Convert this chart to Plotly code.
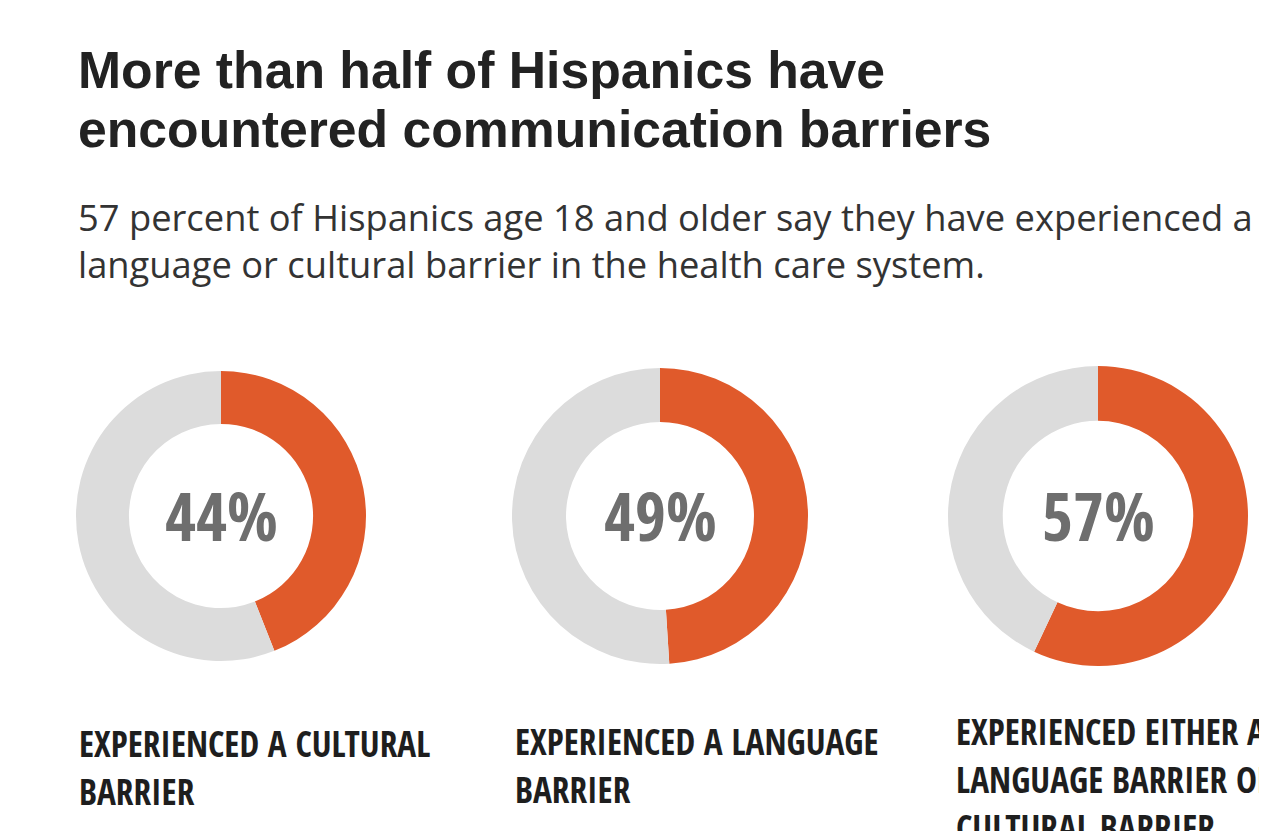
import plotly.graph_objects as go

W, H = 1267, 831
OFF = 8  # browser body margin

title_lines = ["More than half of Hispanics have", "encountered communication barriers"]
subtitle_lines = ["57 percent of Hispanics age 18 and older say they have experienced a",
                  "language or cultural barrier in the health care system."]
percents = [44, 49, 57]
labels = [["EXPERIENCED A CULTURAL", "BARRIER"],
          ["EXPERIENCED A LANGUAGE", "BARRIER"],
          ["EXPERIENCED EITHER A", "LANGUAGE BARRIER OR", "CULTURAL BARRIER"]]

ORANGE = "#E05A2B"
GRAY = "#DCDCDC"

boxes = [(76, 371, 290), (512, 368, 296), (948, 366, 300)]
label_base = [757, 755, 745]
label_x = [78, 514, 955]

def px(x, y):
    return (x - OFF) / W, 1 - (y - OFF) / H

fig = go.Figure()
for (l, t, s), p in zip(boxes, percents):
    x0, y1 = px(l, t)
    x1, y0 = px(l + s, t + s)
    fig.add_trace(go.Pie(
        values=[p, 100 - p],
        marker=dict(colors=[ORANGE, GRAY], line=dict(width=0)),
        hole=0.635, sort=False, direction="clockwise", rotation=0,
        textinfo="none", hoverinfo="skip", showlegend=False,
        domain=dict(x=[x0, x1], y=[y0, y1]),
    ))

ann = []
def text(s, x, base, size, family, color, bold=False, mid=0.35, anchor="left"):
    xx, yy = px(x, base - mid * size)
    ann.append(dict(text=("<b>%s</b>" % s) if bold else s, x=xx, y=yy, xref="paper", yref="paper",
                    xanchor=anchor, yanchor="middle", align="left", showarrow=False, borderpad=0,
                    font=dict(family=family, size=size, color=color)))

for line, b in zip(title_lines, [88, 147]):
    text(line, 77, b, 51.7, "Liberation Sans", "#222222", bold=True)
# two-line subtitle as one block (centre between both lines)
text("<br>".join(subtitle_lines), 77, 254.5 + 0.388 * 36.3 - 14, 36.3, "Open Sans", "#333333", mid=0.388)

COND = "Open Sans Condensed, Roboto Condensed, sans-serif"
for (l, t, s), p in zip(boxes, percents):
    text(f"{p}%", l + s / 2, 541, 67, COND, "#6E6E6E", bold=True, mid=0.388, anchor="center")
for x, b, lab in zip(label_x, label_base, labels):
    for i, line in enumerate(lab):
        text(line, x, b + 48 * i, 35.3, COND, "#1E1E1E", bold=True, mid=0.388)

fig.update_layout(width=W, height=H, margin=dict(l=0, r=0, t=0, b=0),
                  paper_bgcolor="white", plot_bgcolor="white", annotations=ann)
fig.write_html("out.html")
